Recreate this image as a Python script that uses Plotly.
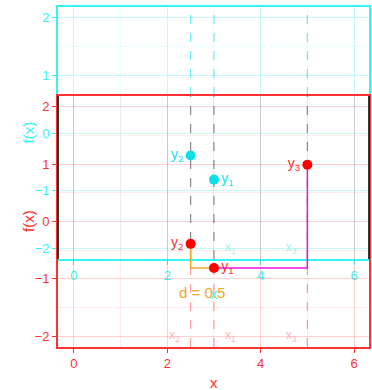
import plotly.graph_objects as go

# ---- data ----
x_pts = [3.0, 2.5, 5.0]          # x1, x2, x3
y_pts = [-0.81, -0.39, 0.99]     # y1, y2, y3
pt_names = ["y<sub>1</sub>", "y<sub>2</sub>", "y<sub>3</sub>"]
x_names = ["x<sub>1</sub>", "x<sub>2</sub>", "x<sub>3</sub>"]
pt_side = ["middle right", "middle left", "middle left"]
xlab_side = ["middle right", "middle left", "middle left"]
cyan_idx = [0, 1]                # points shown in the cyan layer
cyan_xlab_idx = [0, 2]
x_ticks = [0, 2, 4, 6]
y_ticks = [-2, -1, 0, 1, 2]
x_range = [-0.34, 6.32]
y_range = [-2.19, 2.19]

RED = "#ff3030"
CYAN = "#33f5f5"
FONT = "Liberation Sans"
CLEAR = "rgba(0,0,0,0)"

fig = go.Figure()

# cyan layer (xy) -- drawn first
fig.add_trace(go.Scatter(
    x=[x_pts[i] for i in cyan_idx], y=[y_pts[i] for i in cyan_idx],
    mode="markers+text", text=[pt_names[i] for i in cyan_idx],
    textposition=[pt_side[i] for i in cyan_idx],
    marker=dict(color="#10dfe8", size=10),
    textfont=dict(color="#10dfe8", size=14, family=FONT),
    xaxis="x", yaxis="y", showlegend=False, cliponaxis=False))
fig.add_trace(go.Scatter(
    x=[x_pts[i] for i in cyan_xlab_idx], y=[min(y_ticks)] * len(cyan_xlab_idx),
    mode="markers+text", text=[x_names[i] for i in cyan_xlab_idx],
    textposition=[xlab_side[i] for i in cyan_xlab_idx],
    marker=dict(color=CLEAR, size=16),
    textfont=dict(color="#9af5f5", size=12, family=FONT),
    xaxis="x", yaxis="y", showlegend=False))

# red layer (x2y2) -- drawn on top
d = x_pts[0] - x_pts[1]
fig.add_trace(go.Scatter(
    x=[x_pts[1], x_pts[1], x_pts[0]], y=[y_pts[1], y_pts[0], y_pts[0]],
    mode="lines", line=dict(color="#f5a623", width=1.5),
    xaxis="x2", yaxis="y2", showlegend=False))
fig.add_trace(go.Scatter(
    x=[x_pts[0], x_pts[2], x_pts[2]], y=[y_pts[0], y_pts[0], y_pts[2]],
    mode="lines", line=dict(color="#ee10ee", width=1.5),
    xaxis="x2", yaxis="y2", showlegend=False))
fig.add_trace(go.Scatter(
    x=x_pts, y=y_pts, mode="markers+text", text=pt_names,
    textposition=pt_side,
    marker=dict(color="#ff0000", size=10),
    textfont=dict(color=RED, size=14, family=FONT),
    xaxis="x2", yaxis="y2", showlegend=False, cliponaxis=False))
fig.add_trace(go.Scatter(
    x=x_pts, y=[min(y_ticks)] * len(x_pts), mode="markers+text", text=x_names,
    textposition=xlab_side,
    marker=dict(color=CLEAR, size=16),
    textfont=dict(color="#ffb0b0", size=12, family=FONT),
    xaxis="x2", yaxis="y2", showlegend=False))

D_RED = 0.7382
D_CYAN = 0.2588


def xax(color, grid, minor, anchor):
    return dict(range=x_range, tickvals=x_ticks, domain=[0, 1], anchor=anchor,
                showline=True, mirror=True, linecolor=color, linewidth=1.6,
                ticks="outside", ticklen=4, tickcolor=color,
                tickfont=dict(color=color, size=13, family=FONT),
                showgrid=True, gridcolor=grid, gridwidth=1, zeroline=False,
                minor=dict(dtick=1, tick0=0, showgrid=True, gridcolor=minor, ticks=""))


def yax(color, grid, minor, anchor, dom):
    return dict(range=y_range, tickvals=y_ticks, domain=dom, anchor=anchor,
                showline=True, mirror=True, linecolor=color, linewidth=1.6,
                ticks="outside", ticklen=4, tickcolor=color,
                tickfont=dict(color=color, size=13, family=FONT),
                showgrid=True, gridcolor=grid, gridwidth=1, zeroline=False,
                minor=dict(dtick=0.5, tick0=0, showgrid=True, gridcolor=minor, ticks=""))


shapes = []
for xv in x_pts:
    shapes.append(dict(type="line", xref="x", yref="paper", x0=xv, x1=xv,
                       y0=D_RED, y1=1, line=dict(color="#6ff0f0", width=1.2, dash="dash"),
                       layer="below"))
    shapes.append(dict(type="line", xref="x", yref="paper", x0=xv, x1=xv,
                       y0=D_CYAN, y1=D_RED, line=dict(color="#8a8a8a", width=1.2, dash="dash"),
                       layer="below"))
    shapes.append(dict(type="line", xref="x", yref="paper", x0=xv, x1=xv,
                       y0=0, y1=D_CYAN, line=dict(color="#ffa0a0", width=1.2, dash="dash"),
                       layer="below"))
for xe in [0, 1]:
    shapes.append(dict(type="line", xref="paper", yref="paper", x0=xe, x1=xe,
                       y0=D_CYAN, y1=D_RED, line=dict(color="#202020", width=1.8),
                       layer="above"))

annotations = [
    dict(text="f(x)", xref="paper", x=0, xshift=-40, yref="y domain", y=0.5,
         textangle=-90, showarrow=False, font=dict(color=CYAN, size=15, family=FONT)),
    dict(text="f(x)", xref="paper", x=0, xshift=-40, yref="y2 domain", y=0.5,
         textangle=-90, showarrow=False, font=dict(color=RED, size=15, family=FONT)),
    dict(text="x", xref="x domain", x=0.5, yref="y domain", y=0, yshift=-34,
         yanchor="middle", showarrow=False, font=dict(color=CYAN, size=15, family=FONT)),
    dict(text="x", xref="x2 domain", x=0.5, yref="y2 domain", y=0, yshift=-35,
         yanchor="middle", showarrow=False, font=dict(color=RED, size=15, family=FONT)),
    dict(text=f"d = {d:g}", xref="x2", x=(x_pts[0] + x_pts[1]) / 2, yref="y2",
         y=y_pts[0], yshift=-25, yanchor="middle", showarrow=False,
         font=dict(color="#f5a623", size=15, family=FONT)),
]

fig.update_layout(
    width=372, height=390,
    margin=dict(l=58, r=1, t=7, b=43),
    paper_bgcolor="white", plot_bgcolor="rgba(0,0,0,0)",
    xaxis=xax(CYAN, "rgba(0,235,235,0.16)", "rgba(0,235,235,0.09)", "y"),
    yaxis=yax(CYAN, "rgba(0,235,235,0.16)", "rgba(0,235,235,0.09)", "x", [D_CYAN, 1]),
    xaxis2=xax(RED, "rgba(255,0,0,0.12)", "rgba(255,0,0,0.07)", "y2"),
    yaxis2=yax(RED, "rgba(255,0,0,0.12)", "rgba(255,0,0,0.07)", "x2", [0, D_RED]),
    shapes=shapes, annotations=annotations,
    font=dict(family=FONT),
    hovermode=False,
)

fig.write_html("out.html", config={"displayModeBar": False},
               post_script="document.body.style.margin='0';document.body.style.overflow='hidden';")
